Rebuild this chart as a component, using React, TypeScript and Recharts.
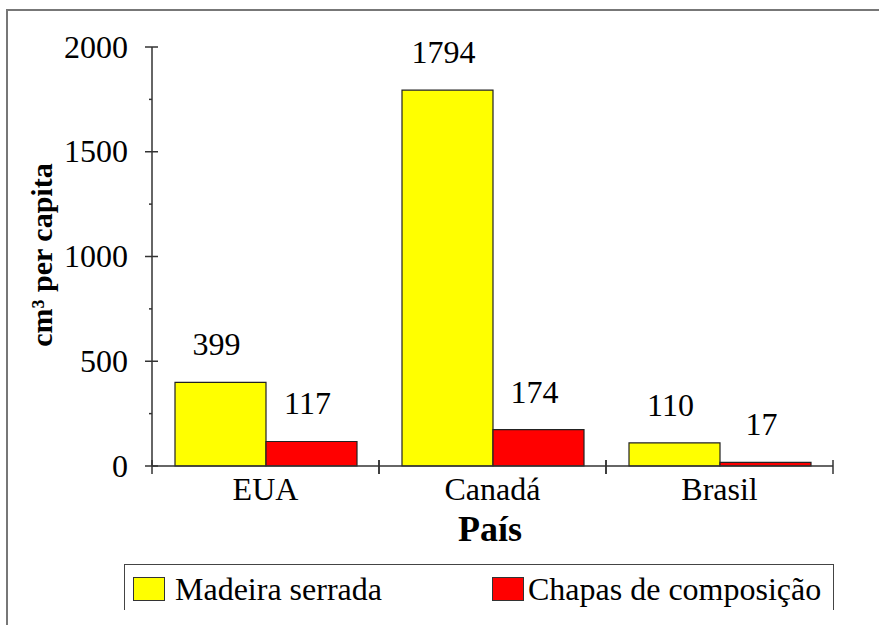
import React from 'react';
import { BarChart, Bar, XAxis, YAxis, Legend, LabelList } from 'recharts';

const categories = ['EUA', 'Canadá', 'Brasil'];
const madeiraSerrada = [399, 1794, 110];
const chapasComposicao = [117, 174, 17];
const yTicks = [0, 250, 500, 750, 1000, 1250, 1500, 1750, 2000];
const yLabelled = [0, 500, 1000, 1500, 2000];
const seriesNames = ['Madeira serrada', 'Chapas de composição'];
const seriesColors = ['#FFFF00', '#FF0000'];

const data = categories.map((c, i) => ({
  pais: c,
  madeira: madeiraSerrada[i],
  chapas: chapasComposicao[i],
}));

const FONT = 'Liberation Serif, DejaVu Serif, serif';
const AXIS = '#333333';
const FS = 32;

const YTick = (props: any) => {
  const { x, y, payload } = props;
  const major = yLabelled.includes(payload.value);
  return (
    <g>
      <line x1={major ? x - 7 : x - 3} x2={major ? x + 6 : x} y1={y} y2={y} stroke={AXIS} strokeWidth={1.5} />
      {major && (
        <text x={x - 24} y={y + 10.5} textAnchor="end" style={{ fontFamily: FONT }} fontSize={FS} fill="#000">
          {payload.value}
        </text>
      )}
    </g>
  );
};

const XTick = (props: any) => {
  const { x, y, payload } = props;
  const half = 113.5;
  return (
    <g>
      <line x1={x - half} x2={x - half} y1={y - 6} y2={y + 8} stroke={AXIS} strokeWidth={1.5} />
      <line x1={x + half} x2={x + half} y1={y - 6} y2={y + 8} stroke={AXIS} strokeWidth={1.5} />
      <text x={x} y={y + 34} textAnchor="middle" style={{ fontFamily: FONT }} fontSize={FS} fill="#000">
        {payload.value}
      </text>
    </g>
  );
};

const ValueLabel = (props: any) => {
  const { x, y, width, value } = props;
  return (
    <text x={x + width / 2 - 4} y={y - 27} textAnchor="middle" style={{ fontFamily: FONT }} fontSize={FS} fill="#000">
      {value}
    </text>
  );
};

const LegendBox = () => (
  <div
    style={{
      width: 710,
      height: 46,
      borderTop: '1.5px solid #444',
      borderLeft: '1.5px solid #444',
      borderRight: '1.5px solid #444',
      boxSizing: 'border-box',
      position: 'relative',
      fontFamily: FONT,
      fontSize: FS,
      color: '#000',
      background: '#fff',
    }}
  >
    {seriesNames.map((n, i) => (
      <div
        key={n}
        style={{
          position: 'absolute',
          left: i === 0 ? 8 : 367,
          top: 11,
          display: 'flex',
          alignItems: 'center',
          whiteSpace: 'nowrap',
          lineHeight: '26px',
        }}
      >
        <span
          style={{
            display: 'inline-block',
            width: 32,
            height: 24,
            background: seriesColors[i],
            border: '1px solid #333',
            boxSizing: 'border-box',
            marginRight: i === 0 ? 10 : 4,
          }}
        />
        <span>{n}</span>
      </div>
    ))}
  </div>
);

export default function App() {
  return (
    <div style={{ position: 'absolute', left: 0, top: 0, width: 879, height: 625, background: '#fff', overflow: 'hidden', fontFamily: FONT }}>
      <div
        style={{
          position: 'absolute',
          left: 6,
          top: 9,
          width: 900,
          height: 700,
          borderTop: '2px solid #777',
          borderLeft: '2px solid #777',
        }}
      />
      <div style={{ position: 'absolute', left: 0, top: 0 }}>
        <BarChart
          width={879}
          height={625}
          data={data}
          margin={{ top: 47, right: 46, left: 0, bottom: 119 }}
          barCategoryGap={23}
          barGap={0}
          style={{ fontFamily: FONT }}
        >
          <YAxis
            width={152}
            domain={[0, 2000]}
            ticks={yTicks}
            interval={0}
            tickSize={0}
            tickMargin={0}
            tickLine={false}
            axisLine={{ stroke: AXIS, strokeWidth: 1.5 }}
            tick={<YTick />}
            label={{
              content: () => (
                <text
                  x={52}
                  y={255}
                  transform="rotate(-90, 52, 255)"
                  textAnchor="middle"
                  style={{ fontFamily: FONT }}
                  fontSize={30}
                  fontWeight="bold"
                  fill="#000"
                >
                  cm³ per capita
                </text>
              ),
            }}
          />
          <XAxis
            dataKey="pais"
            height={40}
            tickSize={0}
            tickMargin={0}
            tickLine={false}
            axisLine={{ stroke: AXIS, strokeWidth: 1.5 }}
            tick={<XTick />}
            label={{
              content: () => (
                <text x={490} y={541} textAnchor="middle" style={{ fontFamily: FONT }} fontSize={36} fontWeight="bold" fill="#000">
                  País
                </text>
              ),
            }}
          />
          <Legend
            layout="horizontal"
            verticalAlign="middle"
            align="center"
            wrapperStyle={{ position: 'absolute', left: 124, top: 564, width: 710, height: 46 }}
            content={() => <LegendBox />}
          />
          <Bar dataKey="madeira" name={seriesNames[0]} fill={seriesColors[0]} stroke="#222" strokeWidth={1.2} isAnimationActive={false}>
            <LabelList dataKey="madeira" content={<ValueLabel />} />
          </Bar>
          <Bar dataKey="chapas" name={seriesNames[1]} fill={seriesColors[1]} stroke="#222" strokeWidth={1.2} isAnimationActive={false}>
            <LabelList dataKey="chapas" content={<ValueLabel />} />
          </Bar>
        </BarChart>
      </div>
    </div>
  );
}
